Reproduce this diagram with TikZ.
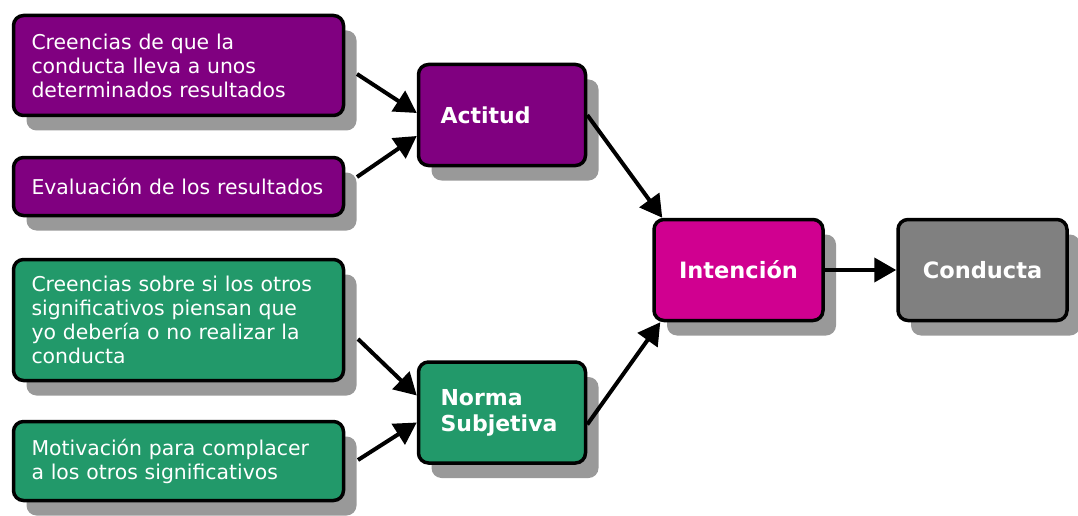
\documentclass[tikz,border=0pt]{standalone}
\usepackage{fontspec}
\setmainfont{DejaVu Sans}
\usetikzlibrary{arrows.meta,shadows}
\definecolor{purp}{RGB}{128,0,128}
\definecolor{magen}{RGB}{208,0,144}
\definecolor{grn}{RGB}{34,153,106}
\definecolor{gry}{RGB}{128,128,128}
\definecolor{shd}{RGB}{153,153,153}
\tikzset{
  box/.style={draw=black, line width=3.5pt, rounded corners=10pt, text=white,
    font=\fontsize{20.4}{24}\selectfont,
    drop shadow={shadow xshift=13pt, shadow yshift=-15pt, fill=shd, opacity=1}},
  leftbox/.style={box, text width=294pt, inner xsep=18pt, minimum width=330pt, align=left},
  midbox/.style={box, text width=123pt, inner xsep=22pt, minimum width=167pt, minimum height=101pt, align=left, font=\fontsize{22}{26}\selectfont\bfseries},
  endbox/.style={box, minimum width=169pt, minimum height=101pt, align=center, font=\fontsize{22.5}{26}\selectfont\bfseries},
  arr/.style={line width=4pt, -{Triangle[length=22pt,width=24pt]}}
}
\begin{document}
\begin{tikzpicture}[x=1pt,y=-1pt]
\useasboundingbox (0,0) rectangle (1078,516);
\node[leftbox, fill=purp, minimum height=100pt] (b1) at (178.5,65.5) {Creencias de que la\\conducta lleva a unos\\determinados resultados};
\node[leftbox, fill=purp, minimum height=58pt] (b2) at (178.5,186.5) {Evaluación de los resultados};
\node[leftbox, fill=grn, minimum height=121pt] (g1) at (178.5,320) {Creencias sobre si los otros\\significativos piensan que\\yo debería o no realizar la\\conducta};
\node[leftbox, fill=grn, minimum height=79pt] (g2) at (178.5,461) {Motivación para complacer\\a los otros significativos};
\node[midbox, fill=purp] (act) at (502,115) {Actitud};
\node[midbox, fill=grn] (norm) at (502,412.5) {Norma\\Subjetiva};
\node[endbox, fill=magen] (int) at (738.5,270) {Intención};
\node[endbox, fill=gry] (cond) at (982.5,270) {Conducta};
\coordinate (s1) at (357,74);
\coordinate (s2) at (357,177);
\coordinate (s3) at (358,339);
\coordinate (s4) at (358,460);
\draw[arr] (s1) -- ([yshift=2pt]act.west);
\draw[arr] (s2) -- ([yshift=-21pt]act.west);
\draw[arr] (s3) -- ([yshift=17pt]norm.west);
\draw[arr] (s4) -- ([yshift=-10pt]norm.west);
\draw[arr] (act.east) -- ([xshift=10pt]int.north west);
\draw[arr] ([yshift=-12pt]norm.east) -- ([xshift=8pt]int.south west);
\draw[arr] (int.east) -- (cond.west);
\end{tikzpicture}
\end{document}
